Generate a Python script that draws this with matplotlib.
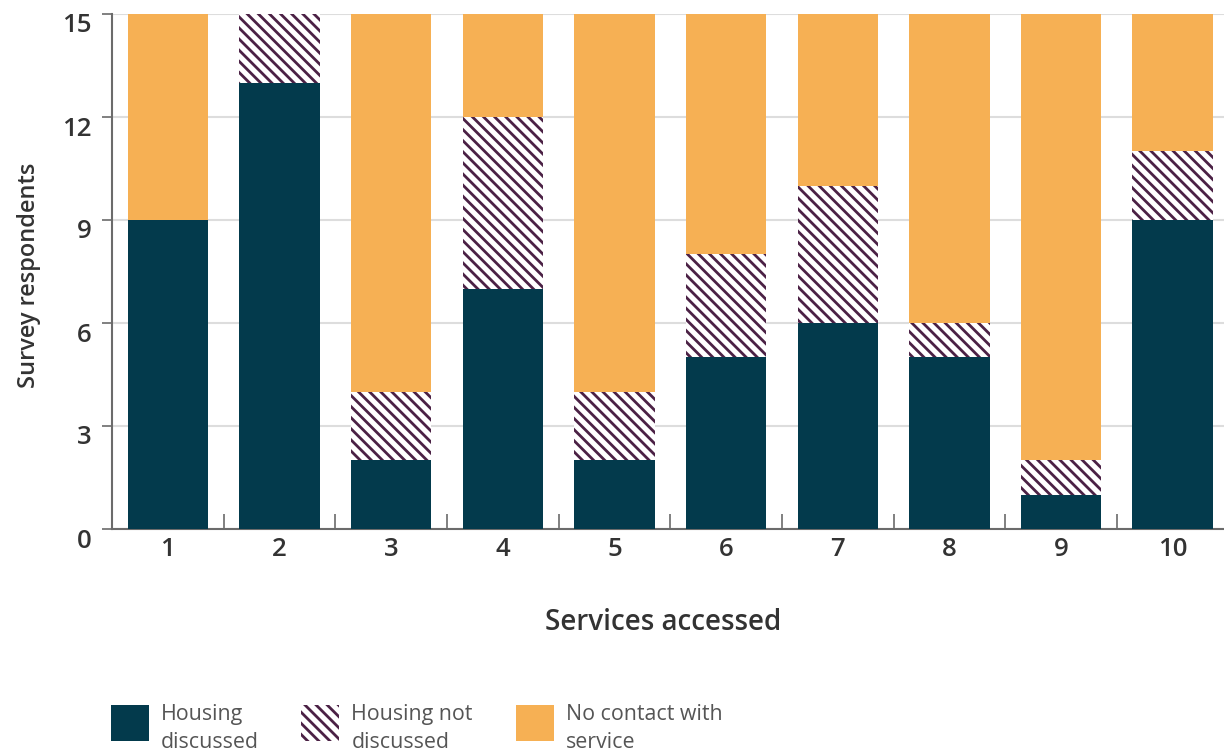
import matplotlib

matplotlib.use("Agg")
import matplotlib.pyplot as plt
import matplotlib.transforms as mtransforms
from matplotlib.patches import Patch

# data
services = [1, 2, 3, 4, 5, 6, 7, 8, 9, 10]
housing_discussed = [9, 13, 2, 7, 2, 5, 6, 5, 1, 9]
housing_not_discussed = [0, 2, 2, 5, 2, 3, 4, 1, 1, 2]
no_contact = [6, 0, 11, 3, 11, 7, 5, 9, 13, 4]
y_ticks = [0, 3, 6, 9, 12, 15]

C_DISC = "#033a4c"
C_HATCH = "#4b2145"
C_NONE = "#f6b054"
C_TEXT = "#333333"
C_AXIS = "#6b6b6b"

plt.rcParams["font.family"] = ["Open Sans", "DejaVu Sans"]
plt.rcParams["hatch.linewidth"] = 2.0

fig = plt.figure(figsize=(12.24, 7.55), dpi=100)
ax = fig.add_axes([112 / 1224, 1 - 529 / 755, 1 - 112 / 1224, (529 - 14) / 755])

w = 0.72
ax.bar(services, housing_discussed, width=w, color=C_DISC, zorder=3)
bottom2 = housing_discussed
ax.bar(services, housing_not_discussed, width=w, bottom=bottom2,
       facecolor="white", edgecolor=C_HATCH, hatch="\\\\\\", lw=0, zorder=3)
bottom3 = [a + b for a, b in zip(housing_discussed, housing_not_discussed)]
ax.bar(services, no_contact, width=w, bottom=bottom3, color=C_NONE, zorder=3)

ax.set_xlim(0.5, 10.46)
ax.set_ylim(0, 15)
ax.set_yticks(y_ticks)
ax.set_xticks(services)
ax.set_xticks([s + 0.5 for s in services[:-1]], minor=True)
ax.tick_params(axis="x", which="major", length=0, labelsize=18.5, labelcolor=C_TEXT, pad=6)
ax.tick_params(axis="x", which="minor", direction="in", length=11, width=1.2, color=C_AXIS)
ax.tick_params(axis="y", length=7, width=1.2, color=C_AXIS, labelsize=18.5,
               labelcolor=C_TEXT, pad=8)
for lbl in ax.get_xticklabels() + ax.get_yticklabels():
    lbl.set_fontweight("semibold")
off = mtransforms.ScaledTranslation(0, -9 / 100, fig.dpi_scale_trans)
for lbl in ax.get_yticklabels():
    lbl.set_transform(lbl.get_transform() + off)

ax.grid(axis="y", color="#dddddd", lw=1.5, zorder=0)
for s in ("top", "right"):
    ax.spines[s].set_visible(False)
for s in ("left", "bottom"):
    ax.spines[s].set_color(C_AXIS)
    ax.spines[s].set_linewidth(1.5)

fig.text(29 / 1224, 1 - 275 / 755, "Survey respondents", rotation=90, ha="center",
         va="center", fontsize=17, color=C_TEXT, fontweight="semibold")
fig.text(663 / 1224, 1 - 623 / 755, "Services accessed", ha="center", va="center",
         fontsize=20, color=C_TEXT, fontweight="semibold")

handles = [
    Patch(facecolor=C_DISC, edgecolor="none"),
    Patch(facecolor="white", edgecolor=C_HATCH, hatch="\\\\\\", lw=0),
    Patch(facecolor=C_NONE, edgecolor="none"),
]
labels = ["Housing\ndiscussed", "Housing not\ndiscussed", "No contact with\nservice"]
leg = fig.legend(handles, labels, loc="lower left", bbox_to_anchor=(102 / 1224, 0.0),
                 ncol=3, frameon=False, fontsize=15.4, handlelength=1.78, handleheight=2.2,
                 handletextpad=0.56, columnspacing=2.0, borderaxespad=0.0)
for t in leg.get_texts():
    t.set_color("#555555")
    t.set_linespacing(1.45)
    t.set_y(-7)

fig.savefig("out.png", dpi=100)
